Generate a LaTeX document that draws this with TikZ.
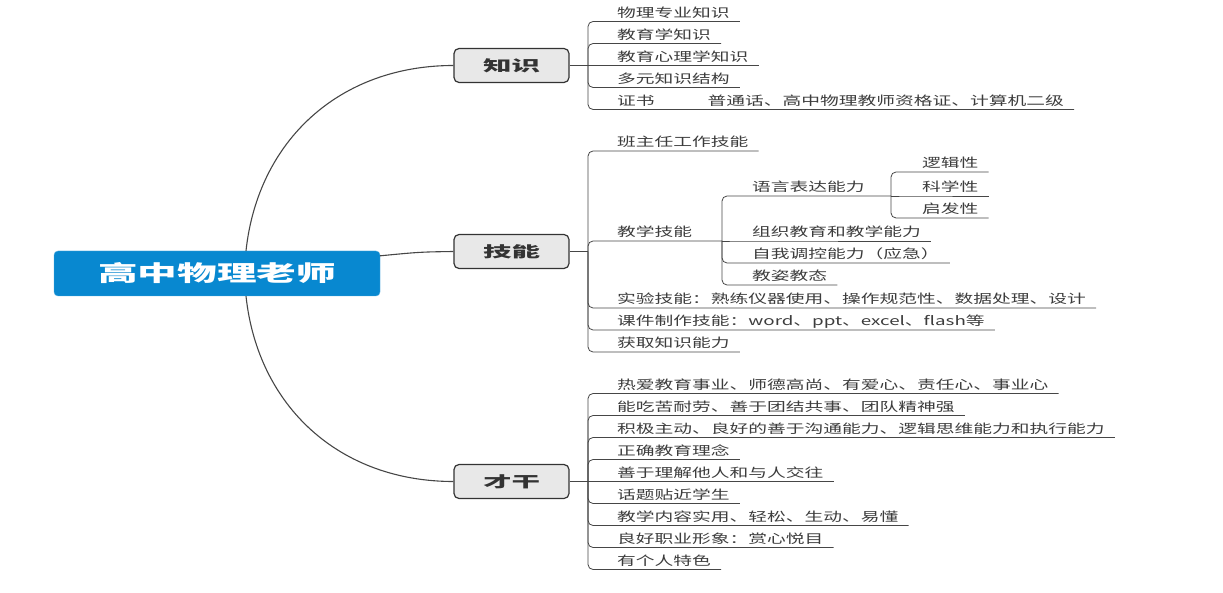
\documentclass[tikz,border=0pt]{standalone}
\usepackage{fontspec}
\setmainfont{Noto Sans CJK SC}
\newfontfamily\leaffont{Noto Sans CJK SC}[FakeStretch=1.5]
\newfontfamily\knotfont{Noto Sans CJK SC}[FakeStretch=1.9]
\newfontfamily\rootfont{Noto Sans CJK SC}[FakeStretch=1.8]
\usetikzlibrary{calc}
\definecolor{rootblue}{RGB}{8,136,208}
\definecolor{boxgray}{RGB}{232,232,232}
\definecolor{linegray}{RGB}{70,70,70}
\definecolor{leafgray}{RGB}{60,60,60}
\begin{document}
\begin{tikzpicture}[x=1pt,y=-1pt,
  root/.style={fill=rootblue,draw=rootblue!70!white,rounded corners=4,minimum width=326,minimum height=45,text=white,font=\fontsize{22}{24}\rootfont\bfseries},
  knot/.style={fill=boxgray,draw=black!80,line width=1.2pt,rounded corners=5,minimum width=115,minimum height=34,text=black!80,font=\fontsize{15}{17}\knotfont\bfseries},
  leaf/.style={anchor=south west,inner xsep=10,inner ysep=3,text height=9,text depth=1.25,text=leafgray,font=\fontsize{12.5}{14}\leaffont},
  link/.style={draw=linegray,line width=0.8pt,rounded corners=5},
  arm/.style={draw=linegray,line width=1.1pt}]
 \useasboundingbox (0,0) rectangle (1223,593);
 % main topic and the three branches
 \node[root] (gz) at (217,273.5) {高中物理老师};
 \node[knot] (zs) at (511.5,65.5) {知识};
 \node[knot] (jn) at (511.5,251.5) {技能};
 \node[knot] (cg) at (511.5,481.5) {才干};
 \draw[arm] ($(gz.north)+(29,0)$) .. controls (258,140) and (340,65.5) .. (zs.west);
 \draw[arm] ($(gz.north east)+(0,5)$) .. controls (420,252) .. (jn.west);
 \draw[arm] ($(gz.south)+(29,0)$) .. controls (258,407) and (340,481.5) .. (cg.west);
 % 知识
 \coordinate (zs-j) at (588,65.5);
 \node[leaf] (zs1) at (607,21.5) {物理专业知识};
 \node[leaf] (zs2) at (607,43.5) {教育学知识};
 \node[leaf] (zs3) at (607,65.5) {教育心理学知识};
 \node[leaf] (zs4) at (607,87.5) {多元知识结构};
 \node[leaf] (zs5) at (607,109.5) {证书\hspace{53pt}普通话、高中物理教师资格证、计算机二级};
 \draw[link] (zs.east) -- (zs-j);
 \draw[link] (zs-j) |- (zs1.south west) -- (zs1.south east);
 \draw[link] (zs-j) |- (zs2.south west) -- (zs2.south east);
 \draw[link] (zs-j) -- (zs3.south west) -- (zs3.south east);
 \draw[link] (zs-j) |- (zs4.south west) -- (zs4.south east);
 \draw[link] (zs-j) |- (zs5.south west) -- (zs5.south east);
 % 技能
 \coordinate (jn-j) at (588,251.5);
 \node[leaf] (jn1) at (607,151) {班主任工作技能};
 \node[leaf] (jn2) at (607,241) {教学技能};
 \node[leaf] (jn3) at (607,308) {实验技能：熟练仪器使用、操作规范性、数据处理、设计};
 \node[leaf] (jn4) at (607,330) {课件制作技能：word、ppt、excel、flash等};
 \node[leaf] (jn5) at (607,352) {获取知识能力};
 \draw[link] (jn.east) -- (jn-j);
 \draw[link] (jn-j) |- (jn1.south west) -- (jn1.south east);
 \draw[link] (jn-j) |- (jn3.south west) -- (jn3.south east);
 \draw[link] (jn-j) |- (jn4.south west) -- (jn4.south east);
 \draw[link] (jn-j) |- (jn5.south west) -- (jn5.south east);
 % 教学技能
 \coordinate (jx-j) at (722,241);
 \node[leaf] (jx1) at (742,196) {语言表达能力};
 \node[leaf] (jx2) at (742,241) {组织教育和教学能力};
 \node[leaf] (jx3) at (742,263) {自我调控能力（应急）};
 \node[leaf] (jx4) at (742,285) {教姿教态};
 \draw[link] (jn-j) |- (jn2.south west) -- (jx-j);
 \draw[link] (jx-j) -- (jx2.south west) -- (jx2.south east);
 \draw[link] (jx-j) |- (jx3.south west) -- (jx3.south east);
 \draw[link] (jx-j) |- (jx4.south west) -- (jx4.south east);
 % 语言表达能力
 \coordinate (yy-j) at (891,196);
 \node[leaf] (yy1) at (912,172) {逻辑性};
 \node[leaf] (yy2) at (912,196) {科学性};
 \node[leaf] (yy3) at (912,218) {启发性};
 \draw[link] (jx-j) |- (jx1.south west) -- (yy-j);
 \draw[link] (yy-j) |- (yy1.south west) -- (yy1.south east);
 \draw[link] (yy-j) -- (yy2.south west) -- (yy2.south east);
 \draw[link] (yy-j) |- (yy3.south west) -- (yy3.south east);
 % 才干
 \coordinate (cg-j) at (588,481.5);
 \node[leaf] (cg1) at (607,393.5) {热爱教育事业、师德高尚、有爱心、责任心、事业心};
 \node[leaf] (cg2) at (607,415.5) {能吃苦耐劳、善于团结共事、团队精神强};
 \node[leaf] (cg3) at (607,437.5) {积极主动、良好的善于沟通能力、逻辑思维能力和执行能力};
 \node[leaf] (cg4) at (607,459.5) {正确教育理念};
 \node[leaf] (cg5) at (607,481.5) {善于理解他人和与人交往};
 \node[leaf] (cg6) at (607,503.5) {话题贴近学生};
 \node[leaf] (cg7) at (607,525.5) {教学内容实用、轻松、生动、易懂};
 \node[leaf] (cg8) at (607,547.5) {良好职业形象：赏心悦目};
 \node[leaf] (cg9) at (607,569.5) {有个人特色};
 \draw[link] (cg.east) -- (cg-j);
 \draw[link] (cg-j) |- (cg1.south west) -- (cg1.south east);
 \draw[link] (cg-j) |- (cg2.south west) -- (cg2.south east);
 \draw[link] (cg-j) |- (cg3.south west) -- (cg3.south east);
 \draw[link] (cg-j) |- (cg4.south west) -- (cg4.south east);
 \draw[link] (cg-j) -- (cg5.south west) -- (cg5.south east);
 \draw[link] (cg-j) |- (cg6.south west) -- (cg6.south east);
 \draw[link] (cg-j) |- (cg7.south west) -- (cg7.south east);
 \draw[link] (cg-j) |- (cg8.south west) -- (cg8.south east);
 \draw[link] (cg-j) |- (cg9.south west) -- (cg9.south east);
\end{tikzpicture}
\end{document}
